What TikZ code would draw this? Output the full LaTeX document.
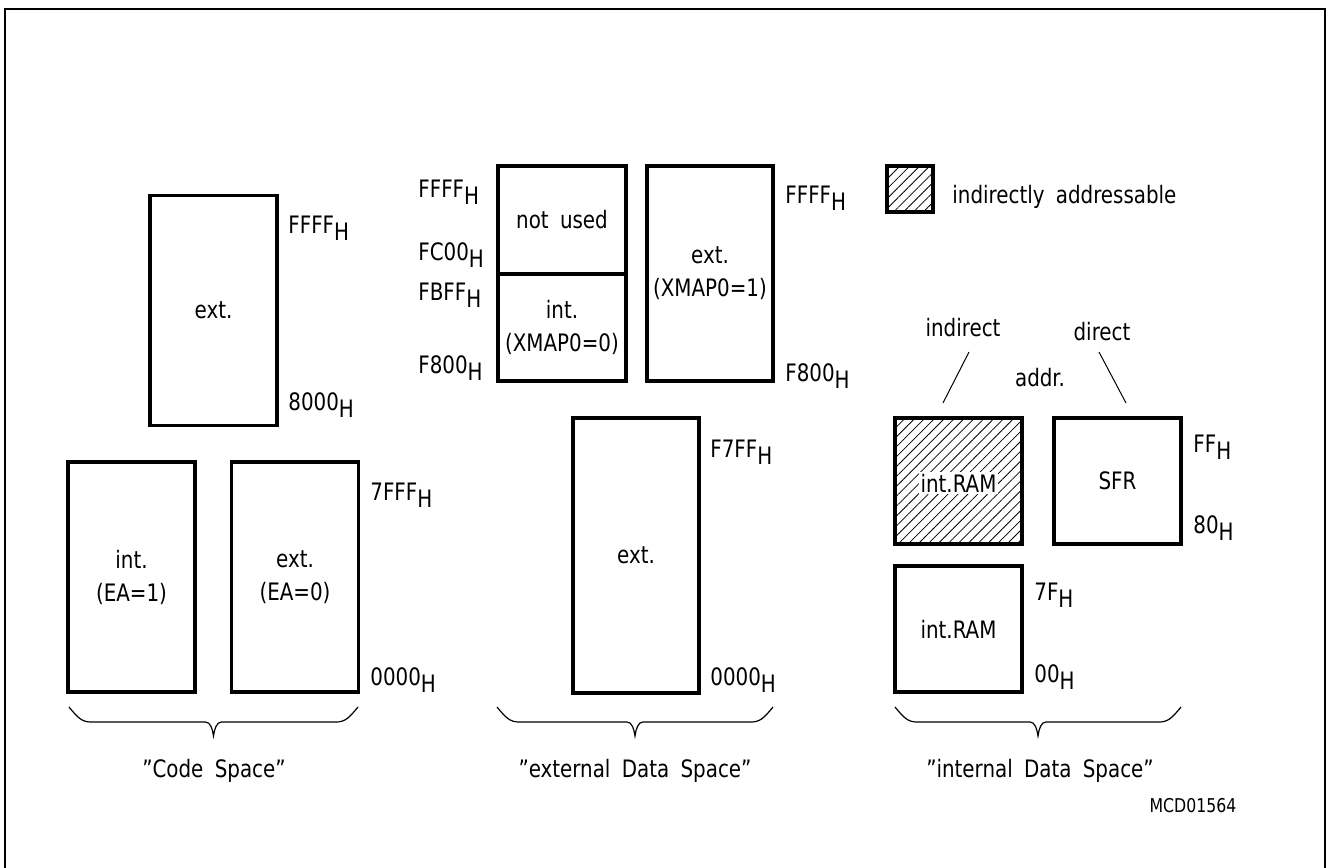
\documentclass[tikz,border=0pt]{standalone}
\usepackage{fontspec}
\setmainfont[WordSpace=1.8, FakeStretch=0.92]{DejaVu Sans Condensed}
\usetikzlibrary{patterns.meta}
\newcommand{\hexH}[1]{#1\raisebox{-0.55ex}{H}}

\begin{document}
\begin{tikzpicture}[x=0.5pt, y=-0.5pt, font=\fontsize{12}{16.5}\selectfont,
    mem/.style={draw, line width=1.6pt, inner sep=0pt, align=center},
    addr/.style={anchor=base west, inner sep=0pt},
    title/.style={anchor=base, inner sep=0pt},
    hatch/.style={pattern={Lines[angle=45, distance=3.5pt, line width=0.4pt]}}]
      \useasboundingbox (0,0) rectangle (1329,868);
      % Frame (open at the bottom)
      \draw[line width=1.1pt] (5,868) -- (5,9) -- (1325,9) -- (1325,868);

      % Code space
      \node[mem, minimum width=63.5pt, minimum height=115pt] (cext) at (213.5,310.5) {ext.};
      \node[mem, minimum width=63.5pt, minimum height=115pt] (cint) at (131.5,577) {int.\\(EA=1)};
      \node[mem, minimum width=63.5pt, minimum height=115pt] (cextb) at (295,577) {ext.\\(EA=0)};
      \node[addr] (cffff) at (288,233) {\hexH{FFFF}};
      \node[addr] (c8000) at (288,410) {\hexH{8000}};
      \node[addr] (c7fff) at (370,500) {\hexH{7FFF}};
      \node[addr] (c0000) at (370,685) {\hexH{0000}};

      % External data space
      \node[mem, minimum width=64pt, minimum height=54pt] (xnu) at (562,220) {not used};
      \node[mem, minimum width=64pt, minimum height=53.5pt] (xint) at (562,327.5) {int.\\(XMAP0=0)};
      \node[mem, minimum width=63pt, minimum height=107.5pt] (xext) at (710,273.5) {ext.\\(XMAP0=1)};
      \node[mem, minimum width=63pt, minimum height=137.5pt] (xlow) at (636,555.5) {ext.};
      \node[addr] (xffffl) at (418,197) {\hexH{FFFF}};
      \node[addr] (xfc00) at (418,260) {\hexH{FC00}};
      \node[addr] (xfbff) at (418,300) {\hexH{FBFF}};
      \node[addr] (xf800l) at (418,373) {\hexH{F800}};
      \node[addr] (xffffr) at (785,203) {\hexH{FFFF}};
      \node[addr] (xf800r) at (785,381) {\hexH{F800}};
      \node[addr] (xf7ff) at (710,457) {\hexH{F7FF}};
      \node[addr] (x0000) at (710,685) {\hexH{0000}};

      % Internal data space
      \node[mem, hatch, minimum size=23pt] (legend) at (910,189) {};
      \node[addr] (legendtxt) at (952,203) {indirectly addressable};
      \node[mem, hatch, minimum width=63.5pt, minimum height=63pt] (iram) at (958.5,481) {};
      \node[fill=white, inner sep=1pt] (iramlbl) at (958.5,483) {int.RAM};
      \node[mem, minimum width=63.5pt, minimum height=63pt] (sfr) at (1117.5,481) {SFR};
      \node[mem, minimum width=63.5pt, minimum height=63pt] (iramlow) at (958.5,629) {int.RAM};
      \node[addr] (iff) at (1193,452) {\hexH{FF}};
      \node[addr] (i80) at (1193,533) {\hexH{80}};
      \node[addr] (i7f) at (1034,600) {\hexH{7F}};
      \node[addr] (i00) at (1034,682) {\hexH{00}};
      \node (indirect) at (963,328) {indirect};
      \node (direct) at (1102,332) {direct};
      \node (addr) at (1040,378) {addr.};
      \coordinate (ia) at (969,352);
      \coordinate (ib) at (943,403);
      \coordinate (da) at (1099,352);
      \coordinate (db) at (1126,403);
      \draw[line width=0.5pt] (ia) -- (ib);
      \draw[line width=0.5pt] (da) -- (db);

      % Braces and space names
      \foreach \l/\r/\m in {69/358/213.5, 497/773/635, 895/1181/1038}
        \draw[line width=0.6pt] (\l,707) .. controls ({\l+9},718) and ({\l+13},722) .. ({\l+22},722)
          -- ({\m-8},722) .. controls ({\m-3},722) and ({\m-1},729) .. (\m,736)
          .. controls ({\m+1},729) and ({\m+3},722) .. ({\m+8},722)
          -- ({\r-22},722) .. controls ({\r-13},722) and ({\r-9},718) .. (\r,707);
      \node[title] (codesp) at (214,777) {”Code Space”};
      \node[title] (extsp) at (635,777) {”external Data Space”};
      \node[title] (intsp) at (1040,777) {”internal Data Space”};
      \node[title, font=\fontsize{9.5}{11}\selectfont] (mcd) at (1193,812) {MCD01564};
    \end{tikzpicture}
\end{document}
